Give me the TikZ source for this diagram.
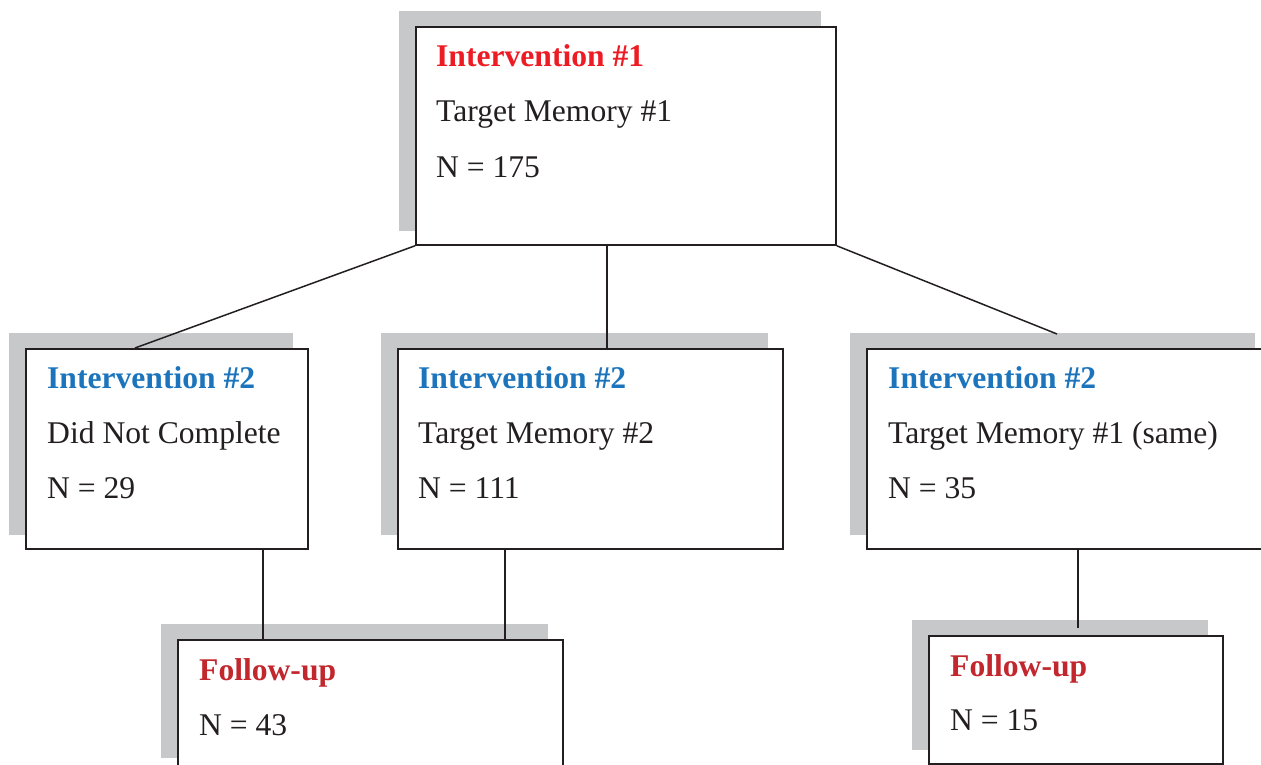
\documentclass[tikz,border=0pt]{standalone}
\usepackage{fontspec}
\setmainfont{Liberation Serif}
\usetikzlibrary{backgrounds}
\definecolor{redA}{HTML}{ED1C24}
\definecolor{redB}{HTML}{C1272D}
\definecolor{blueA}{HTML}{1C75BC}
\definecolor{shadowgray}{HTML}{C7C8CA}
\definecolor{ink}{HTML}{231F20}
\tikzset{
  box/.style={draw=ink, line width=1.8pt, fill=white, inner sep=0pt, anchor=north west},
  txt/.style={anchor=base west, inner sep=0pt, text=ink, font=\fontsize{31.6}{38}\selectfont},
  ttl/.style={txt, font=\fontsize{31.6}{38}\selectfont\bfseries},
  conn/.style={draw=ink, line width=1.5pt},
  shade/.style={fill=shadowgray}
}
\newcommand{\boxshadow}[1]{\fill[shade] ([shift={(-16,-15)}]#1.north west) rectangle ([shift={(-16,-15)}]#1.south east);}
\begin{document}
\begin{tikzpicture}[x=1pt,y=-1pt]
\useasboundingbox (0,0) rectangle (1261,765);
\clip (0,0) rectangle (1261,765);
% boxes
\node[box, minimum width=420, minimum height=218] (top) at (415,26) {};
\node[box, minimum width=282, minimum height=200] (b1) at (25,348) {};
\node[box, minimum width=385, minimum height=200] (b2) at (397,348) {};
\node[box, minimum width=403, minimum height=200] (b3) at (866,348) {};
\node[box, minimum width=385, minimum height=132] (f1) at (177,639) {};
\node[box, minimum width=294, minimum height=128] (f2) at (928,635) {};
\begin{scope}[on background layer]
\boxshadow{top}
\boxshadow{b1}
\boxshadow{b2}
\boxshadow{b3}
\boxshadow{f1}
\boxshadow{f2}
\end{scope}
% texts
\node[ttl, text=redA] (t1) at (436,67) {Intervention \#1};
\node[txt] (t2) at (436,122) {Target Memory \#1};
\node[txt] (t3) at (436,177) {N = 175};
\node[ttl, text=blueA] (a1) at (47,388) {Intervention \#2};
\node[txt] (a2) at (47,443) {Did Not Complete};
\node[txt] (a3) at (47,498) {N = 29};
\node[ttl, text=blueA] (m1) at (418,388) {Intervention \#2};
\node[txt] (m2) at (418,443) {Target Memory \#2};
\node[txt] (m3) at (418,498) {N = 111};
\node[ttl, text=blueA] (r1) at (888,388) {Intervention \#2};
\node[txt] (r2) at (888,443) {Target Memory \#1 (same)};
\node[txt] (r3) at (888,498) {N = 35};
\node[ttl, text=redB] (p1) at (199,680) {Follow-up};
\node[txt] (p2) at (199,735) {N = 43};
\node[ttl, text=redB] (q1) at (950,676) {Follow-up};
\node[txt] (q2) at (950,730) {N = 15};
% connector coordinates
\coordinate (cL) at (135,348);
\coordinate (cMtop) at (607,244);
\coordinate (cMbot) at (607,348);
\coordinate (cR) at (1057,334);
\coordinate (d1a) at (263,548);
\coordinate (d1b) at (263,639);
\coordinate (d2a) at (505,548);
\coordinate (d2b) at (505,639);
\coordinate (d3a) at (1078,548);
\coordinate (d3b) at (1078,628);
% connectors
\draw[conn] (top.south west) -- (cL);
\draw[conn] (cMtop) -- (cMbot);
\draw[conn] (top.south east) -- (cR);
\draw[conn] (d1a) -- (d1b);
\draw[conn] (d2a) -- (d2b);
\draw[conn] (d3a) -- (d3b);
\end{tikzpicture}
\end{document}
